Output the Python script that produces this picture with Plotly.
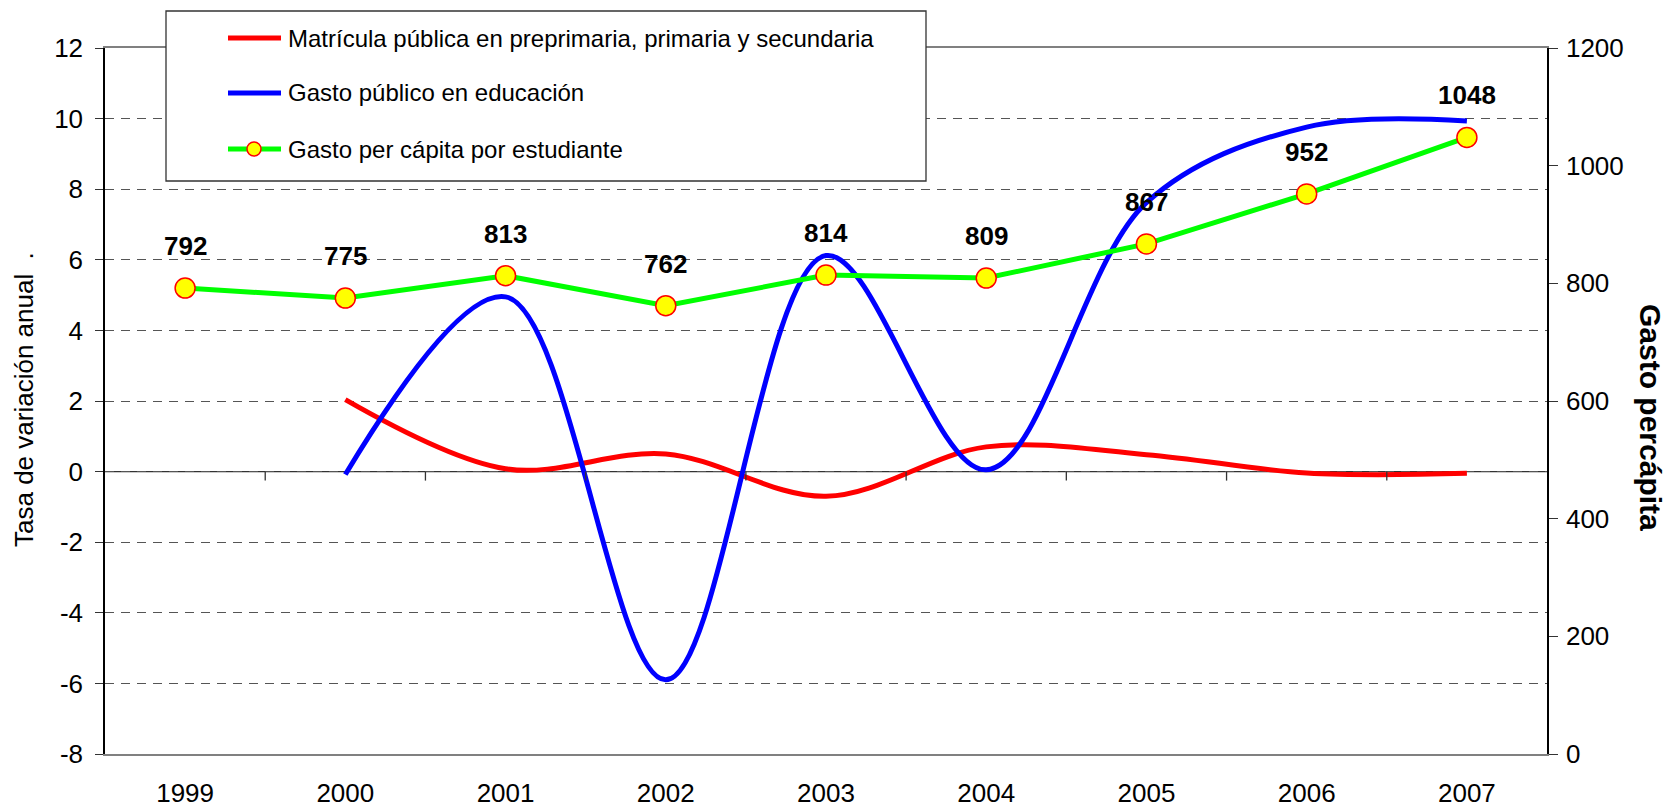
import plotly.graph_objects as go

years = ["1999", "2000", "2001", "2002", "2003", "2004", "2005", "2006", "2007"]
matricula = [None, 2.04, 0.08, 0.50, -0.70, 0.70, 0.48, -0.04, -0.05]
gasto_publico = [None, -0.08, 4.95, -5.9, 6.12, 0.05, 7.62, 9.76, 9.93]
gasto_per_capita = [792, 775, 813, 762, 814, 809, 867, 952, 1048]

left_ticks = list(range(-8, 13, 2))
left_ticktext = [str(v) for v in left_ticks]
right_ticks = list(range(0, 1201, 200))

names = ["Matrícula pública en preprimaria, primaria y secundaria",
         "Gasto público en educación",
         "Gasto per cápita por estudiante"]

W, H = 1669, 809
L, R, T, B = 105, 1547, 48, 754


def px(x):
    return (x - L) / (R - L)


def py(y):
    return (B - y) / (B - T)


FONT = "Liberation Sans, Arial, sans-serif"

fig = go.Figure()
fig.add_trace(go.Scatter(x=years, y=matricula, mode="lines", name=names[0],
                         line=dict(color="#ff0000", width=5, shape="spline", smoothing=1.0),
                         yaxis="y"))
fig.add_trace(go.Scatter(x=years, y=gasto_publico, mode="lines", name=names[1],
                         line=dict(color="#0000ff", width=5, shape="spline", smoothing=1.0),
                         yaxis="y"))
fig.add_trace(go.Scatter(x=years, y=gasto_per_capita, mode="lines+markers", name=names[2],
                         line=dict(color="#00ff00", width=5),
                         marker=dict(symbol="circle", size=20, color="#ffff00",
                                     line=dict(color="#ff0000", width=1.5)),
                         yaxis="y2"))

annotations = []
for i, v in enumerate(gasto_per_capita):
    annotations.append(dict(x=i, y=v, xref="x", yref="y2", text="<b>%d</b>" % v,
                            showarrow=False, yshift=42, xanchor="center", yanchor="middle",
                            font=dict(family=FONT, size=26, color="black")))

annotations.append(dict(x=px(24), y=py(400), xref="paper", yref="paper",
                        xanchor="center", yanchor="middle",
                        text="Tasa de variación anual  .", textangle=-90, showarrow=False,
                        font=dict(family=FONT, size=26, color="black")))
annotations.append(dict(x=px(1650), y=py(417), xref="paper", yref="paper",
                        xanchor="center", yanchor="middle",
                        text="<b>Gasto percápita</b>", textangle=90, showarrow=False,
                        font=dict(family=FONT, size=30, color="black")))

shapes = []
# zero line with category boundary ticks
shapes.append(dict(type="line", xref="paper", yref="y", x0=0, x1=1, y0=0, y1=0,
                   line=dict(color="#333333", width=1.3), layer="below"))
for i in range(len(years) - 1):
    shapes.append(dict(type="line", xref="x", yref="y", x0=i + 0.5, x1=i + 0.5,
                       ysizemode="pixel", yanchor=0, y0=0, y1=-9,
                       line=dict(color="#333333", width=1.3)))

# legend box
shapes.append(dict(type="rect", xref="paper", yref="paper", x0=px(166), x1=px(926),
                   y0=py(181), y1=py(11), fillcolor="white",
                   line=dict(color="#333333", width=1.3), layer="above"))
rows = [38, 93, 149]
colors = ["#ff0000", "#0000ff", "#00ff00"]
for r, c, n in zip(rows, colors, names):
    shapes.append(dict(type="line", xref="paper", yref="paper", x0=px(228), x1=px(281),
                       y0=py(r), y1=py(r), line=dict(color=c, width=5), layer="above"))
    annotations.append(dict(x=px(286), y=py(r), xref="paper", yref="paper", text=n,
                            showarrow=False, xanchor="left", yanchor="middle",
                            font=dict(family=FONT, size=24, color="black")))
shapes.append(dict(type="circle", xref="paper", yref="paper",
                   xsizemode="pixel", ysizemode="pixel",
                   xanchor=px(254), yanchor=py(rows[2]),
                   x0=-7, x1=7, y0=-7, y1=7, fillcolor="#ffff00",
                   line=dict(color="#ff0000", width=1.5), layer="above"))

fig.update_layout(
    template="none",
    width=W, height=H,
    margin=dict(l=L, r=W - R, t=T, b=H - B, autoexpand=False),
    paper_bgcolor="white", plot_bgcolor="white",
    showlegend=False,
    font=dict(family=FONT, size=26, color="black"),
    xaxis=dict(type="category", range=[-0.5, len(years) - 0.5], showgrid=False,
               zeroline=False, showline=True, linecolor="#808080", linewidth=2,
               mirror=True, ticks="", ticklabelstandoff=15, automargin=False,
               tickfont=dict(family=FONT, size=26, color="black")),
    yaxis=dict(range=[-8, 12], tickvals=left_ticks, ticktext=left_ticktext,
               showgrid=True, gridcolor="#555555",
               griddash="9px,7px", gridwidth=1.2, zeroline=False,
               showline=True, linecolor="black", linewidth=1.5,
               ticks="outside", ticklen=8, tickcolor="#333333", tickwidth=1.3,
               ticklabelstandoff=7, automargin=False,
               tickfont=dict(family=FONT, size=26, color="black")),
    yaxis2=dict(range=[0, 1200], tickvals=right_ticks, overlaying="y", side="right",
                showgrid=False, zeroline=False, showline=True, linecolor="black",
                linewidth=1.5, ticks="outside", ticklen=9, tickcolor="#333333",
                tickwidth=1.3, ticklabelstandoff=3, automargin=False,
                tickfont=dict(family=FONT, size=26, color="black")),
    shapes=shapes,
    annotations=annotations,
)

fig.write_html("out.html", config={"displayModeBar": False},
               post_script="document.body.style.margin='0';document.body.style.overflow='hidden';")
